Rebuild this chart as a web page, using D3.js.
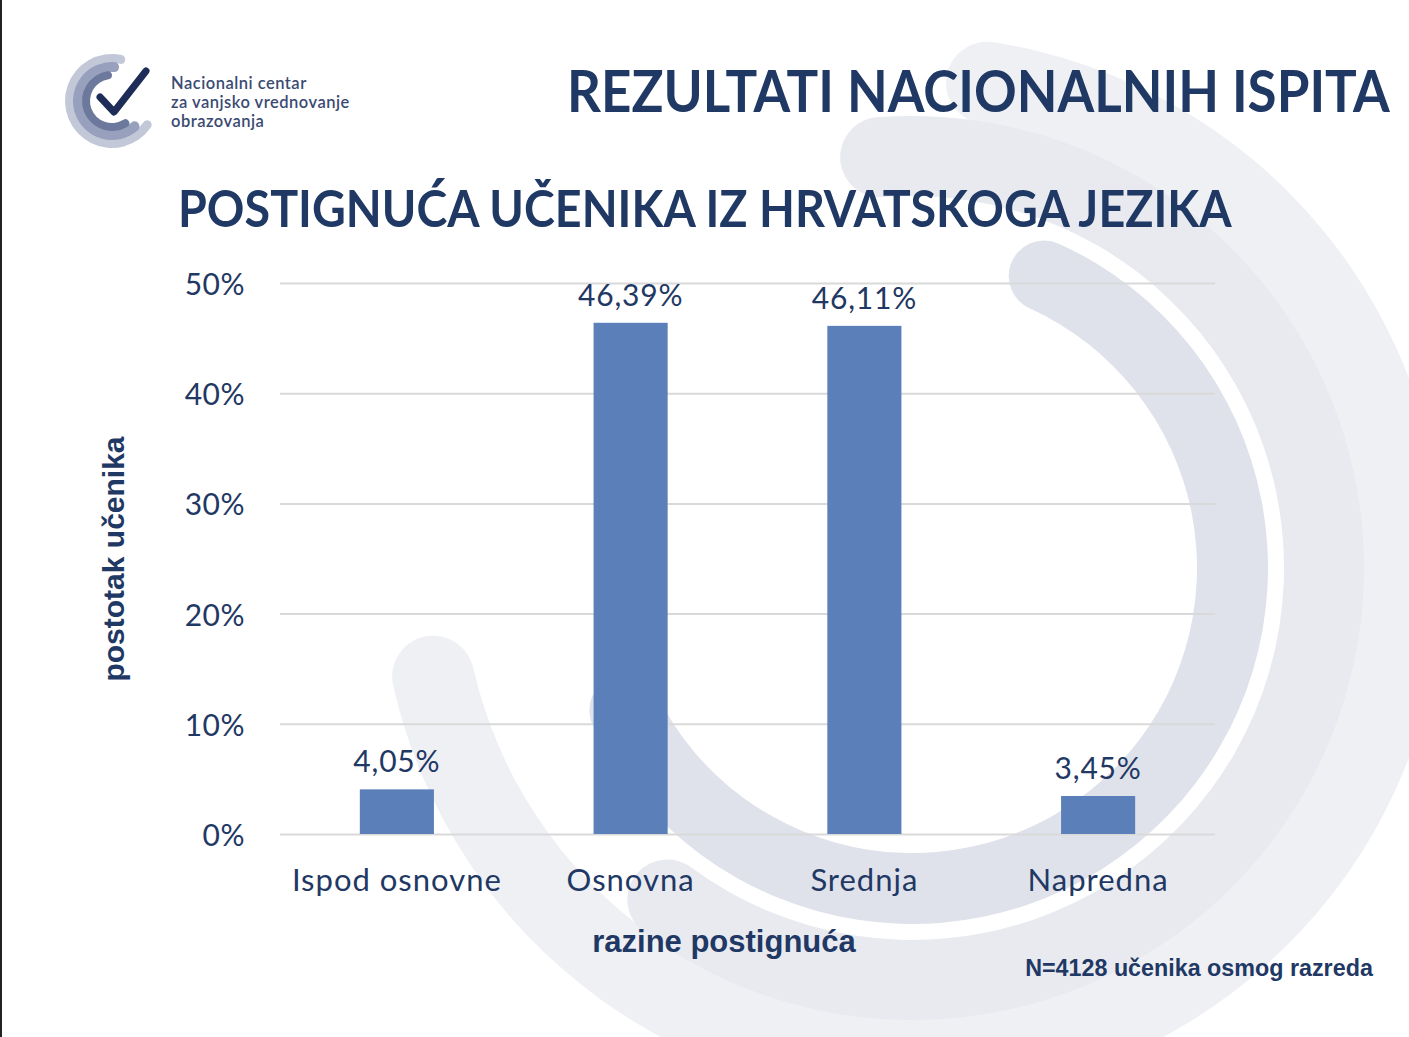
<!DOCTYPE html>
<html>
<head>
<meta charset="utf-8">
<script src="https://cdn.jsdelivr.net/npm/d3@7"></script>
<style>
  html, body { margin: 0; padding: 0; background: #fff; }
  svg { display: block; }
</style>
</head>
<body>
<div id="chart"></div>
<script>
// —————————— DATA
var categories = ["Ispod osnovne", "Osnovna", "Srednja", "Napredna"];
var values = [4.05, 46.39, 46.11, 3.45];
var valueLabels = ["4,05%", "46,39%", "46,11%", "3,45%"];
var yTicks = [0, 10, 20, 30, 40, 50];
var logoLines = ["Nacionalni centar", "za vanjsko vrednovanje", "obrazovanja"];

// —————————— SIZES / COLOURS
var W = 1409, H = 1037;
var navy = "#1f3864";
var barColor = "#5b80b9";
var plot = {left: 280, right: 1215, top: 283, bottom: 834};

var svg = d3.select("#chart").append("svg")
    .attr("width", W)
    .attr("height", H);

// —————————— BACKGROUND SWOOSH
var deg = Math.PI / 180;
var swoosh = svg.append("g").attr("transform", "translate(912,568)");
// [inner r, outer r, start, end, colour]  (d3 angles, clockwise from 12 o'clock)
var bands = [
  [450, 532, 4, 262, "#eef0f4"],
  [372, 452, -10, 222, "#e8eaf0"],
  [285, 356, 18, 250, "#dfe2ea"]
];
bands.forEach(function(b) {
  swoosh.append("path")
    .attr("d", d3.arc()
      .innerRadius(b[0]).outerRadius(b[1])
      .startAngle(b[2] * deg).endAngle(b[3] * deg)
      .cornerRadius((b[1] - b[0]) / 2)())
    .attr("fill", b[4]);
});

// left border line
svg.append("rect").attr("x", 0).attr("y", 0).attr("width", 2).attr("height", H).attr("fill", "#222");

// —————————— LOGO
var logo = svg.append("g").attr("transform", "translate(112,101)");
[[38, 47, 118, 378, "#c2c8d8"], [29, 39, 130, 372, "#97a1bd"], [22, 30, 140, 360, "#6c789c"]].forEach(function(b) {
  logo.append("path")
    .attr("d", d3.arc().innerRadius(b[0]).outerRadius(b[1])
      .startAngle(b[2] * deg).endAngle(b[3] * deg)
      .cornerRadius((b[1] - b[0]) / 2)())
    .attr("fill", b[4]);
});
logo.append("path")
  .attr("d", "M-12,-4 L2,11 L34,-30")
  .attr("fill", "none")
  .attr("stroke", "#1e2c58")
  .attr("stroke-width", 7)
  .attr("stroke-linecap", "round")
  .attr("stroke-linejoin", "round");

svg.append("g").selectAll("text")
  .data(logoLines)
  .enter().append("text")
    .attr("x", 171)
    .attr("y", function(d, i) { return 89 + i * 19; })
    .attr("font-family", "Lato, sans-serif")
    .attr("font-size", 16.5)
    .attr("font-weight", 600)
    .attr("letter-spacing", 0.5)
    .attr("fill", "#3b4a72")
    .text(function(d) { return d; });

// —————————— TITLES
// squeeze the title horizontally so it fits the same width as in the slide
function fittedTitle(txt, x0, y0, size, targetW) {
  var g = svg.append("g");
  var t = g.append("text")
    .attr("x", 0).attr("y", 0)
    .attr("font-family", "Lato, sans-serif")
    .attr("font-weight", 700)
    .attr("font-size", size)
    .attr("fill", navy)
    .text(txt);
  var w = t.node().getComputedTextLength();
  g.attr("transform", "translate(" + x0 + "," + y0 + ") scale(" + (targetW / w) + ",1)");
}
fittedTitle("REZULTATI NACIONALNIH ISPITA", 567, 112, 58, 823);
fittedTitle("POSTIGNUĆA UČENIKA IZ HRVATSKOGA JEZIKA", 178, 227, 51, 1054);

// —————————— SCALES
var x = d3.scaleBand()
  .domain(categories)
  .range([plot.left, plot.right])
  .paddingInner(0.683)
  .paddingOuter(0.3415);

var y = d3.scaleLinear()
  .domain([0, 50])
  .range([plot.bottom, plot.top]);

// gridlines + tick labels
var yAxis = svg.append("g")
  .attr("transform", "translate(" + plot.left + ",0)")
  .call(d3.axisLeft(y).tickValues(yTicks).tickSize(-(plot.right - plot.left)).tickPadding(35)
    .tickFormat(function(d) { return d + "%"; }));
yAxis.select(".domain").remove();
yAxis.selectAll(".tick line").attr("stroke", "#d9d9d9").attr("stroke-width", 2);
yAxis.selectAll(".tick text")
  .attr("font-family", "Lato, sans-serif")
  .attr("font-size", 30)
  .attr("letter-spacing", 0.5)
  .attr("fill", navy)
  .attr("dy", "0.38em");

// bars
svg.append("g").selectAll("rect")
  .data(values)
  .enter().append("rect")
    .attr("x", function(d, i) { return x(categories[i]); })
    .attr("y", function(d) { return y(d); })
    .attr("width", x.bandwidth())
    .attr("height", function(d) { return y(0) - y(d); })
    .attr("fill", barColor);

// value labels
svg.append("g").selectAll("text")
  .data(values)
  .enter().append("text")
    .attr("x", function(d, i) { return x(categories[i]) + x.bandwidth() / 2; })
    .attr("y", function(d) { return y(d) - 17; })
    .attr("text-anchor", "middle")
    .attr("font-family", "Lato, sans-serif")
    .attr("font-size", 30)
    .attr("letter-spacing", 0.8)
    .attr("fill", navy)
    .text(function(d, i) { return valueLabels[i]; });

// category labels
var xAxis = svg.append("g")
  .attr("transform", "translate(0," + plot.bottom + ")")
  .call(d3.axisBottom(x).tickSize(0).tickPadding(35));
xAxis.select(".domain").remove();
xAxis.selectAll(".tick text")
  .attr("font-family", "Lato, sans-serif")
  .attr("font-size", 31)
  .attr("letter-spacing", 1)
  .attr("fill", navy);

// axis titles
svg.append("text")
  .attr("transform", "translate(124,559) rotate(-90)")
  .attr("text-anchor", "middle")
  .attr("font-family", "'Liberation Sans', Arial, sans-serif")
  .attr("font-weight", 700)
  .attr("font-size", 30)
  .attr("fill", navy)
  .text("postotak učenika");

svg.append("text")
  .attr("x", 724).attr("y", 952)
  .attr("text-anchor", "middle")
  .attr("font-family", "'Liberation Sans', Arial, sans-serif")
  .attr("font-weight", 700)
  .attr("font-size", 31)
  .attr("fill", navy)
  .text("razine postignuća");

svg.append("text")
  .attr("x", 1199).attr("y", 976)
  .attr("text-anchor", "middle")
  .attr("font-family", "'Liberation Sans', Arial, sans-serif")
  .attr("font-weight", 700)
  .attr("font-size", 23.3)
  .attr("fill", navy)
  .text("N=4128 učenika osmog razreda");
</script>
</body>
</html>
